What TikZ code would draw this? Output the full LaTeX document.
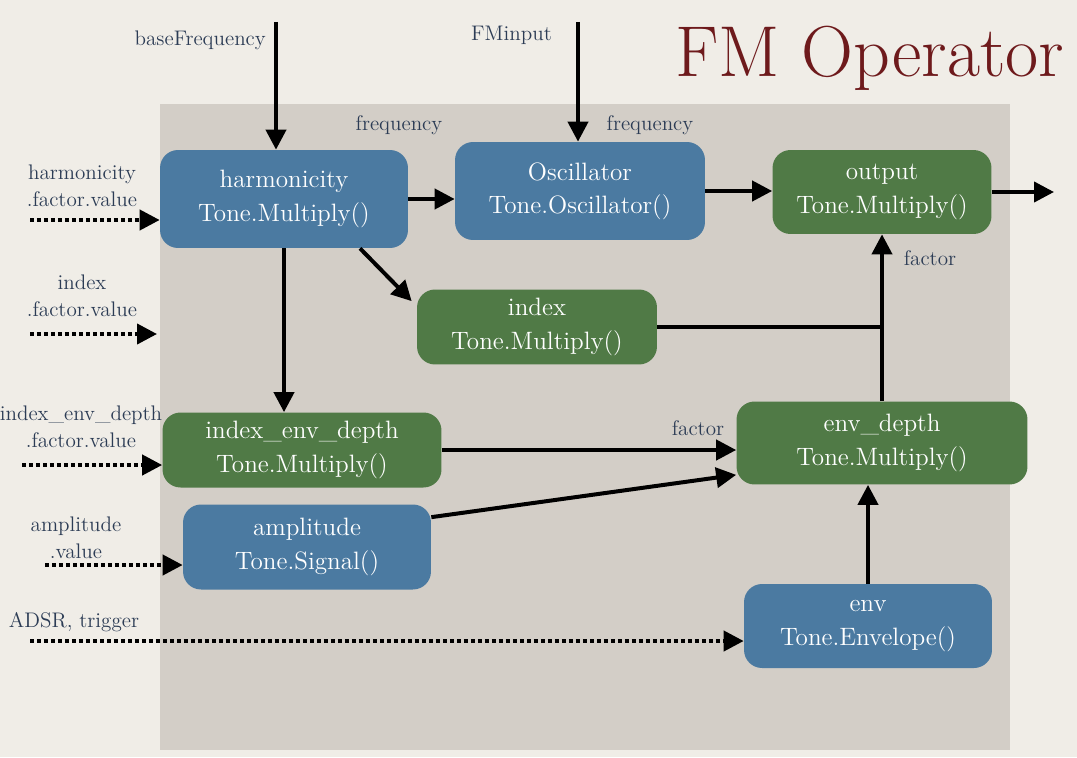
\documentclass[tikz,border=0pt]{standalone}
\usetikzlibrary{arrows.meta}
\definecolor{paper}{HTML}{F0EDE7}
\definecolor{panel}{HTML}{D3CEC7}
\definecolor{boxblue}{HTML}{4B7AA1}
\definecolor{boxgreen}{HTML}{507A46}
\definecolor{lblcol}{HTML}{2C3C55}
\definecolor{titlecol}{HTML}{6E1A1C}
\begin{document}
\begin{tikzpicture}[x=0.02cm,y=-0.02cm,
    box/.style={rounded corners=0.36cm,text=white,align=center,inner sep=0pt,
      font=\fontsize{14.3}{19}\selectfont},
    bluebox/.style={box,fill=boxblue},
    greenbox/.style={box,fill=boxgreen},
    lbl/.style={text=lblcol,align=center,font=\fontsize{12}{15.5}\selectfont},
    arr/.style={line width=0.08cm,-{Triangle[length=0.4cm,width=0.4cm]}},
    wire/.style={line width=0.08cm},
    dotarr/.style={arr,dash pattern=on 0.08cm off 0.06cm}]
  % background
  \fill[paper] (0,0) rectangle (1077,757);
  \useasboundingbox (0,0) rectangle (1077,757);
  \fill[panel] (160,104) rectangle (1010,750);
  \node[text=titlecol,font=\fontsize{41}{44}\selectfont] (title) at (870,58) {FM Operator};
  % blocks
  \node[bluebox,minimum width=4.96cm,minimum height=1.96cm] (harm) at (284,199) {harmonicity\\Tone.Multiply()};
  \node[bluebox,minimum width=5cm,minimum height=1.96cm] (osc) at (580,191) {Oscillator\\Tone.Oscillator()};
  \node[greenbox,minimum width=4.38cm,minimum height=1.68cm] (out) at (882,192) {output\\Tone.Multiply()};
  \node[greenbox,minimum width=4.8cm,minimum height=1.5cm] (index) at (537,327) {index\\Tone.Multiply()};
  \node[greenbox,minimum width=5.58cm,minimum height=1.5cm] (ied) at (302,450) {index\_env\_depth\\Tone.Multiply()};
  \node[bluebox,minimum width=4.96cm,minimum height=1.7cm] (amp) at (307,547) {amplitude\\Tone.Signal()};
  \node[greenbox,minimum width=5.82cm,minimum height=1.66cm] (envdepth) at (882,443) {env\_depth\\Tone.Multiply()};
  \node[bluebox,minimum width=4.96cm,minimum height=1.68cm] (env) at (868,626) {env\\Tone.Envelope()};
  % labels
  \node[lbl,anchor=east] (bflbl) at (272,40) {baseFrequency};
  \node[lbl,anchor=east] (fmlbl) at (558,35) {FMinput};
  \node[lbl] (freq1) at (399,125) {frequency};
  \node[lbl] (freq2) at (650,125) {frequency};
  \node[lbl] (fact1) at (930,258) {factor};
  \node[lbl] (fact2) at (698,428) {factor};
  \node[lbl] (harmin) at (82,186) {harmonicity\\.factor.value};
  \node[lbl] (idxin) at (82,296) {index\\.factor.value};
  \node[lbl] (iedin) at (81,427) {index\_env\_depth\\.factor.value};
  \node[lbl] (ampin) at (76,538) {amplitude\\.value};
  \node[lbl] (adsrin) at (74,622) {ADSR, trigger};
  % free ends
  \coordinate (bf) at (276,22);
  \coordinate (fm) at (578,22);
  \coordinate (outend) at (1054,195);
  \coordinate (hsrc) at (30,220);
  \coordinate (isrc) at (30,334);
  \coordinate (iend) at (157,334);
  \coordinate (esrc) at (22,465);
  \coordinate (asrc) at (45,565);
  \coordinate (dsrc) at (30,641);
  % links
  \draw[arr] (bf) -- (bf |- harm.north);
  \draw[arr] (fm) -- (fm |- osc.north);
  \draw[arr] (harm.east) -- (harm.east -| osc.west);
  \draw[arr] (osc.east) -- (osc.east -| out.west);
  \draw[arr] (out.east) -- (out.east -| outend);
  \draw[arr] ([xshift=1.52cm]harm.south) -- ([xshift=-0.1cm,yshift=-0.24cm]index.north west);
  \draw[arr] (harm.south) -- (harm.south |- ied.north);
  \draw[wire] (index.east) -- (index.east -| envdepth.north);
  \draw[arr] (envdepth.north) -- (out.south);
  \draw[arr] (ied.east) -- (ied.east -| envdepth.west);
  \draw[arr] ([yshift=-0.26cm]amp.north east) -- ([yshift=0.2cm]envdepth.south west);
  \draw[arr] (env.north) -- (env.north |- envdepth.south);
  % inputs
  \draw[dotarr] (hsrc) -- (hsrc -| harm.west);
  \draw[dotarr] (isrc) -- (iend);
  \draw[dotarr] (esrc) -- (esrc -| ied.west);
  \draw[dotarr] (asrc) -- (asrc -| amp.west);
  \draw[dotarr] (dsrc) -- (dsrc -| env.west);
\end{tikzpicture}
\end{document}
